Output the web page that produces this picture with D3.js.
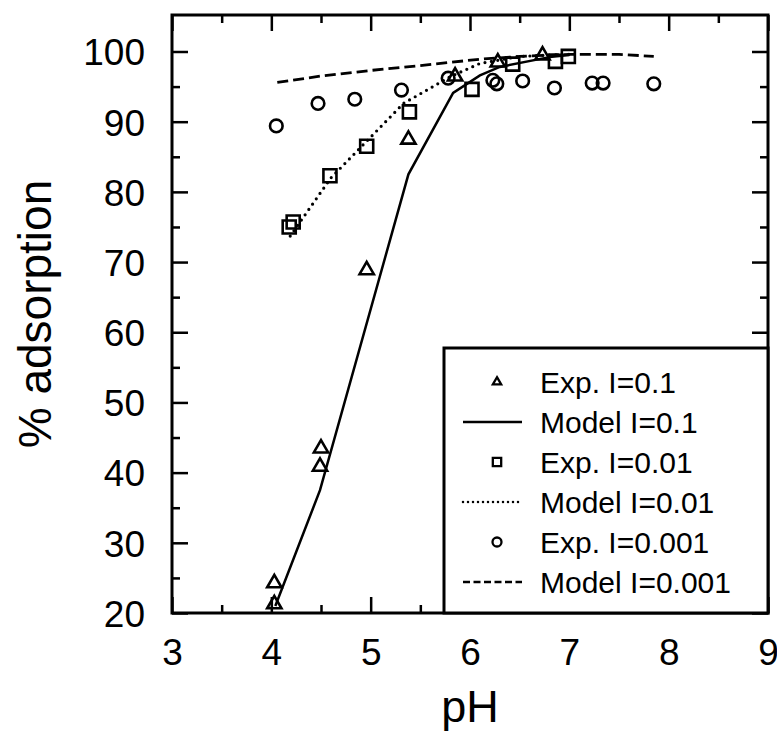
<!DOCTYPE html>
<html lang="en">
<head>
    <meta charset="UTF-8">
    <title>% adsorption vs pH</title>
    <script src="https://d3js.org/d3.v7.min.js"></script>
    <style>
        body { margin: 0; background: #fff; }
        text { font-family: "Liberation Sans", Arial, sans-serif; fill: #000; }
    </style>
</head>
<body>
    <div id="chart"></div>
    <script>
        // data
        const expPH_01 = [4.03, 4.03, 4.5, 4.49, 4.96, 5.38, 5.85, 6.28, 6.73];
        const expAds_01 = [24.4, 21.4, 43.6, 41.0, 69.0, 87.6, 96.6, 98.6, 99.6];
        const modelPH_01 = [4.04, 4.49, 5.38, 5.83, 6.1, 6.3, 6.8, 7.0];
        const modelAds_01 = [21.0, 37.5, 82.5, 94.1, 96.6, 97.8, 99.2, 99.5];

        const expPH_001 = [4.18, 4.22, 4.59, 4.96, 5.39, 6.02, 6.43, 6.86, 6.99];
        const expAds_001 = [75.0, 75.7, 82.3, 86.5, 91.4, 94.6, 98.2, 98.6, 99.3];
        const modelPH_001 = [4.19, 4.6, 5.0, 5.33, 5.8, 6.1, 6.5, 7.0];
        const modelAds_001 = [73.7, 82.0, 87.8, 92.6, 96.4, 98.3, 99.3, 99.6];

        const expPH_0001 = [4.05, 4.47, 4.84, 5.31, 5.78, 6.23, 6.27, 6.53, 6.85, 7.23, 7.34, 7.85];
        const expAds_0001 = [89.4, 92.6, 93.2, 94.5, 96.2, 95.9, 95.4, 95.8, 94.8, 95.5, 95.5, 95.4];
        const modelPH_0001 = [4.06, 4.5, 5.0, 5.5, 6.1, 6.5, 7.0, 7.5, 7.85];
        const modelAds_0001 = [95.6, 96.5, 97.3, 98.0, 98.9, 99.3, 99.6, 99.6, 99.3];

        const xTicks = [3, 4, 5, 6, 7, 8, 9];
        const yTicks = [20, 30, 40, 50, 60, 70, 80, 90, 100];
        const legendLabels = ["Exp. I=0.1", "Model I=0.1", "Exp. I=0.01", "Model I=0.01", "Exp. I=0.001", "Model I=0.001"];

        const width = 777, height = 734;
        const pLeft = 172, pRight = 768, pTop = 15, pBottom = 613;

        const svg = d3.select("#chart").append("svg")
            .attr("width", width)
            .attr("height", height);

        const x = d3.scaleLinear().domain([3, 9]).range([pLeft, pRight]);
        const y = d3.scaleLinear().domain([20, 105.2]).range([pBottom, pTop]);

        const xMinor = d3.range(3.5, 9, 1);
        const yMinor = d3.range(25, 105, 10);

        // inward ticks on all four sides
        function ticks(axis, vals, size, labels) {
            return axis.tickValues(vals).tickSizeInner(-size).tickSizeOuter(0)
                .tickFormat(labels ? d3.format("d") : "");
        }
        const axes = svg.append("g");
        const gx = axes.append("g").attr("transform", `translate(0,${pBottom})`)
            .call(ticks(d3.axisBottom(x), xTicks, 16, true));
        axes.append("g").attr("transform", `translate(0,${pBottom})`)
            .call(ticks(d3.axisBottom(x), xMinor, 8, false));
        axes.append("g").attr("transform", `translate(0,${pTop})`)
            .call(ticks(d3.axisTop(x), xTicks, 16, false));
        axes.append("g").attr("transform", `translate(0,${pTop})`)
            .call(ticks(d3.axisTop(x), xMinor, 8, false));
        const gy = axes.append("g").attr("transform", `translate(${pLeft},0)`)
            .call(ticks(d3.axisLeft(y), yTicks, 16, true));
        axes.append("g").attr("transform", `translate(${pLeft},0)`)
            .call(ticks(d3.axisLeft(y), yMinor, 8, false));
        axes.append("g").attr("transform", `translate(${pRight},0)`)
            .call(ticks(d3.axisRight(y), yTicks, 16, false));
        axes.append("g").attr("transform", `translate(${pRight},0)`)
            .call(ticks(d3.axisRight(y), yMinor, 8, false));

        axes.selectAll(".domain").remove();
        axes.selectAll(".tick line").attr("stroke", "#000").attr("stroke-width", 2.5);
        gx.selectAll(".tick text").attr("font-size", 37).attr("y", 0).attr("dy", "1.4em")
            .style("font-family", "Liberation Sans");
        gy.selectAll(".tick text").attr("font-size", 37).attr("x", -27).attr("dy", "0.36em")
            .style("font-family", "Liberation Sans");

        svg.append("rect")
            .attr("x", pLeft).attr("y", pTop)
            .attr("width", pRight - pLeft).attr("height", pBottom - pTop)
            .attr("fill", "none").attr("stroke", "#000").attr("stroke-width", 3);

        // axis titles
        svg.append("text")
            .attr("x", (pLeft + pRight) / 2).attr("y", 722)
            .attr("text-anchor", "middle").attr("font-size", 45)
            .text("pH");
        svg.append("text")
            .attr("transform", `translate(51,${(pTop + pBottom) / 2}) rotate(-90)`)
            .attr("text-anchor", "middle").attr("font-size", 46)
            .text("% adsorption");

        const line = d3.line().x(d => x(d[0])).y(d => y(d[1]));
        const zip = (a, b) => a.map((v, i) => [v, b[i]]);

        const plot = svg.append("g");
        plot.append("path").datum(zip(modelPH_01, modelAds_01))
            .attr("d", line).attr("fill", "none").attr("stroke", "#000").attr("stroke-width", 2.5);
        plot.append("path").datum(zip(modelPH_001, modelAds_001))
            .attr("d", line).attr("fill", "none").attr("stroke", "#000").attr("stroke-width", 3.2)
            .attr("stroke-linecap", "round").attr("stroke-dasharray", "0 6.5");
        plot.append("path").datum(zip(modelPH_0001, modelAds_0001))
            .attr("d", line).attr("fill", "none").attr("stroke", "#000").attr("stroke-width", 2.8)
            .attr("stroke-dasharray", "11 5");

        const tri = d3.symbol().type(d3.symbolTriangle).size(88);
        const sq = d3.symbol().type(d3.symbolSquare).size(170);

        plot.selectAll(".tri").data(zip(expPH_01, expAds_01)).enter().append("path")
            .attr("d", tri).attr("transform", d => `translate(${x(d[0])},${y(d[1]) + 1})`)
            .attr("fill", "none").attr("stroke", "#000").attr("stroke-width", 2.6);
        plot.selectAll(".sq").data(zip(expPH_001, expAds_001)).enter().append("path")
            .attr("d", sq).attr("transform", d => `translate(${x(d[0])},${y(d[1])})`)
            .attr("fill", "none").attr("stroke", "#000").attr("stroke-width", 2.6);
        plot.selectAll(".circ").data(zip(expPH_0001, expAds_0001)).enter().append("circle")
            .attr("cx", d => x(d[0])).attr("cy", d => y(d[1])).attr("r", 6.3)
            .attr("fill", "none").attr("stroke", "#000").attr("stroke-width", 2.6);

        // legend
        const lg = svg.append("g");
        lg.append("rect")
            .attr("x", 444).attr("y", 348)
            .attr("width", pRight - 444).attr("height", pBottom - 348)
            .attr("fill", "#fff").attr("stroke", "#000").attr("stroke-width", 3);
        const rowY = i => 382 + i * 40;
        const symX = 497;
        legendLabels.forEach((t, i) => {
            lg.append("text").attr("x", 540).attr("y", rowY(i) + 11)
                .attr("font-size", 30).text(t);
        });
        lg.append("path").attr("d", d3.symbol().type(d3.symbolTriangle).size(30))
            .attr("transform", `translate(${symX},${rowY(0)})`)
            .attr("fill", "none").attr("stroke", "#000").attr("stroke-width", 2.3);
        lg.append("path").attr("d", d3.symbol().type(d3.symbolSquare).size(70))
            .attr("transform", `translate(${symX},${rowY(2)})`)
            .attr("fill", "none").attr("stroke", "#000").attr("stroke-width", 2.3);
        lg.append("circle").attr("cx", symX).attr("cy", rowY(4)).attr("r", 4.5)
            .attr("fill", "none").attr("stroke", "#000").attr("stroke-width", 2.3);
        const seg = [[463, 0], [522, 0]];
        const lline = d3.line();
        lg.append("path").attr("d", lline(seg)).attr("transform", `translate(0,${rowY(1)})`)
            .attr("stroke", "#000").attr("stroke-width", 2.3);
        lg.append("path").attr("d", lline(seg)).attr("transform", `translate(0,${rowY(3)})`)
            .attr("stroke", "#000").attr("stroke-width", 2.5).attr("stroke-linecap", "round")
            .attr("stroke-dasharray", "0 5");
        lg.append("path").attr("d", lline(seg)).attr("transform", `translate(0,${rowY(5)})`)
            .attr("stroke", "#000").attr("stroke-width", 2.3).attr("stroke-dasharray", "7 3.5");
    </script>
</body>
</html>
